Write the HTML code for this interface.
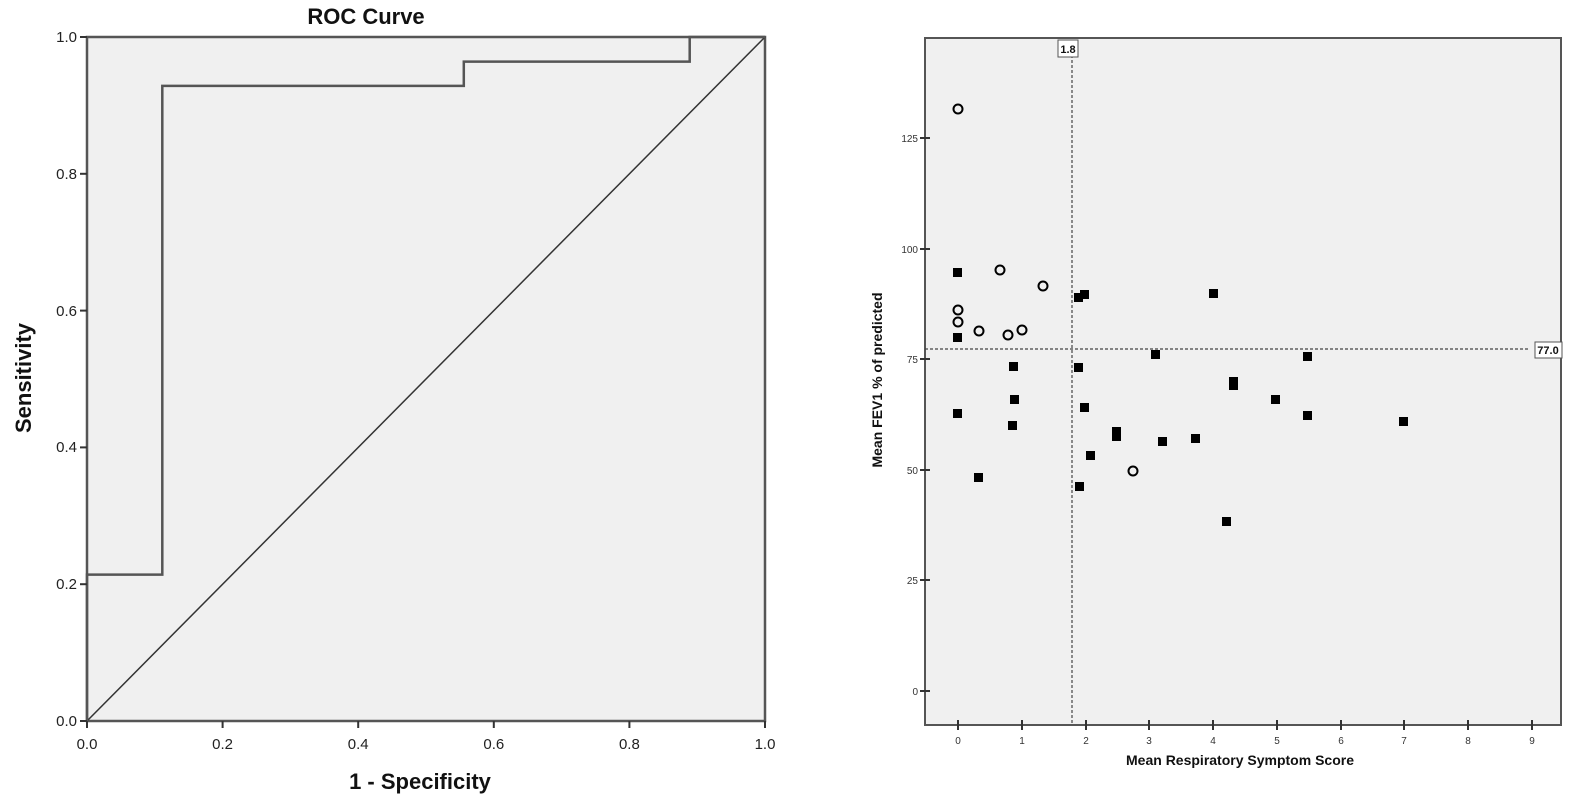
<!DOCTYPE html>
<html><head><meta charset="utf-8"><style>
html,body{margin:0;padding:0;background:#fff;width:1575px;height:806px;overflow:hidden}
svg text{font-family:"Liberation Sans",Arial,sans-serif}
</style></head><body>
<svg width="1575" height="806" viewBox="0 0 1575 806" xmlns="http://www.w3.org/2000/svg">
<!-- LEFT ROC -->
<text x="366" y="24" font-size="22" font-weight="bold" text-anchor="middle" fill="#111">ROC Curve</text>
<rect x="87" y="37" width="678" height="684" fill="#f0f0f0" stroke="#555" stroke-width="2.5"/>
<line x1="87" y1="721" x2="765" y2="37" stroke="#333" stroke-width="1.5"/>
<polyline fill="none" stroke="#555" stroke-width="2.5" points="87,721 87,574.6 162.3,574.6 162.3,85.9 463.8,85.9 463.8,61.6 689.7,61.6 689.7,37 765,37"/>
<g stroke="#333" stroke-width="2">
<line x1="87" y1="721" x2="87" y2="728"/><line x1="222.6" y1="721" x2="222.6" y2="728"/><line x1="358.2" y1="721" x2="358.2" y2="728"/><line x1="493.8" y1="721" x2="493.8" y2="728"/><line x1="629.4" y1="721" x2="629.4" y2="728"/><line x1="765" y1="721" x2="765" y2="728"/>
<line x1="80" y1="721" x2="87" y2="721"/><line x1="80" y1="584.2" x2="87" y2="584.2"/><line x1="80" y1="447.4" x2="87" y2="447.4"/><line x1="80" y1="310.6" x2="87" y2="310.6"/><line x1="80" y1="173.8" x2="87" y2="173.8"/><line x1="80" y1="37" x2="87" y2="37"/>
</g>
<g font-size="15" fill="#222" text-anchor="middle">
<text x="87" y="749">0.0</text><text x="222.6" y="749">0.2</text><text x="358.2" y="749">0.4</text><text x="493.8" y="749">0.6</text><text x="629.4" y="749">0.8</text><text x="765" y="749">1.0</text>
</g>
<g font-size="15" fill="#222" text-anchor="end">
<text x="77" y="726">0.0</text><text x="77" y="589">0.2</text><text x="77" y="452">0.4</text><text x="77" y="316">0.6</text><text x="77" y="179">0.8</text><text x="77" y="42">1.0</text>
</g>
<text x="420" y="789" font-size="22" font-weight="bold" text-anchor="middle" fill="#111">1 - Specificity</text>
<text transform="translate(31,378) rotate(-90)" font-size="22" font-weight="bold" text-anchor="middle" fill="#111">Sensitivity</text>

<!-- RIGHT SCATTER -->
<rect x="925" y="38" width="636" height="687" fill="#f0f0f0" stroke="#555" stroke-width="2"/>
<line x1="1072" y1="45" x2="1072" y2="725" stroke="#444" stroke-width="1.2" stroke-dasharray="3,2"/>
<line x1="925" y1="349" x2="1530" y2="349" stroke="#444" stroke-width="1.2" stroke-dasharray="3,2"/>
<rect x="1058" y="40" width="20" height="17" fill="#fff" stroke="#555" stroke-width="1"/>
<text x="1068" y="53" font-size="11" font-weight="bold" text-anchor="middle" fill="#111">1.8</text>
<rect x="1535" y="342" width="27" height="16" fill="#fff" stroke="#555" stroke-width="1"/>
<text x="1548" y="354" font-size="11" font-weight="bold" text-anchor="middle" fill="#111">77.0</text>
<g stroke="#333" stroke-width="2">
<line x1="958" y1="720" x2="958" y2="730"/><line x1="1022" y1="720" x2="1022" y2="730"/><line x1="1086" y1="720" x2="1086" y2="730"/><line x1="1149" y1="720" x2="1149" y2="730"/><line x1="1213" y1="720" x2="1213" y2="730"/><line x1="1277" y1="720" x2="1277" y2="730"/><line x1="1341" y1="720" x2="1341" y2="730"/><line x1="1404" y1="720" x2="1404" y2="730"/><line x1="1468" y1="720" x2="1468" y2="730"/><line x1="1532" y1="720" x2="1532" y2="730"/>
<line x1="920" y1="691" x2="930" y2="691"/><line x1="920" y1="580" x2="930" y2="580"/><line x1="920" y1="470" x2="930" y2="470"/><line x1="920" y1="359" x2="930" y2="359"/><line x1="920" y1="249" x2="930" y2="249"/><line x1="920" y1="138" x2="930" y2="138"/>
</g>
<g font-size="10" fill="#333" text-anchor="middle">
<text x="958" y="744">0</text><text x="1022" y="744">1</text><text x="1086" y="744">2</text><text x="1149" y="744">3</text><text x="1213" y="744">4</text><text x="1277" y="744">5</text><text x="1341" y="744">6</text><text x="1404" y="744">7</text><text x="1468" y="744">8</text><text x="1532" y="744">9</text>
</g>
<g font-size="10" fill="#333" text-anchor="end">
<text x="918" y="695">0</text><text x="918" y="584">25</text><text x="918" y="474">50</text><text x="918" y="363">75</text><text x="918" y="253">100</text><text x="918" y="142">125</text>
</g>
<text x="1240" y="765" font-size="14" font-weight="bold" text-anchor="middle" fill="#111">Mean Respiratory Symptom Score</text>
<text transform="translate(882,380) rotate(-90)" font-size="14" font-weight="bold" text-anchor="middle" fill="#111">Mean FEV1 % of predicted</text>
<g fill="#000">
<rect x="953" y="268" width="9" height="9"/><rect x="953" y="333" width="9" height="9"/><rect x="953" y="409" width="9" height="9"/><rect x="974" y="473" width="9" height="9"/><rect x="1009" y="362" width="9" height="9"/><rect x="1010" y="395" width="9" height="9"/><rect x="1008" y="421" width="9" height="9"/><rect x="1074" y="293" width="9" height="9"/><rect x="1080" y="290" width="9" height="9"/><rect x="1074" y="363" width="9" height="9"/><rect x="1080" y="403" width="9" height="9"/><rect x="1075" y="482" width="9" height="9"/><rect x="1086" y="451" width="9" height="9"/><rect x="1112" y="427" width="9" height="9"/><rect x="1112" y="432" width="9" height="9"/><rect x="1151" y="350" width="9" height="9"/><rect x="1158" y="437" width="9" height="9"/><rect x="1191" y="434" width="9" height="9"/><rect x="1209" y="289" width="9" height="9"/><rect x="1229" y="377" width="9" height="9"/><rect x="1229" y="381" width="9" height="9"/><rect x="1222" y="517" width="9" height="9"/><rect x="1271" y="395" width="9" height="9"/><rect x="1303" y="352" width="9" height="9"/><rect x="1303" y="411" width="9" height="9"/><rect x="1399" y="417" width="9" height="9"/>
</g>
<g fill="none" stroke="#000" stroke-width="2">
<circle cx="958" cy="109" r="4.5"/><circle cx="958" cy="310" r="4.5"/><circle cx="958" cy="322" r="4.5"/><circle cx="979" cy="331" r="4.5"/><circle cx="1000" cy="270" r="4.5"/><circle cx="1008" cy="335" r="4.5"/><circle cx="1022" cy="330" r="4.5"/><circle cx="1043" cy="286" r="4.5"/><circle cx="1133" cy="471" r="4.5"/>
</g>
</svg>
</body></html>
